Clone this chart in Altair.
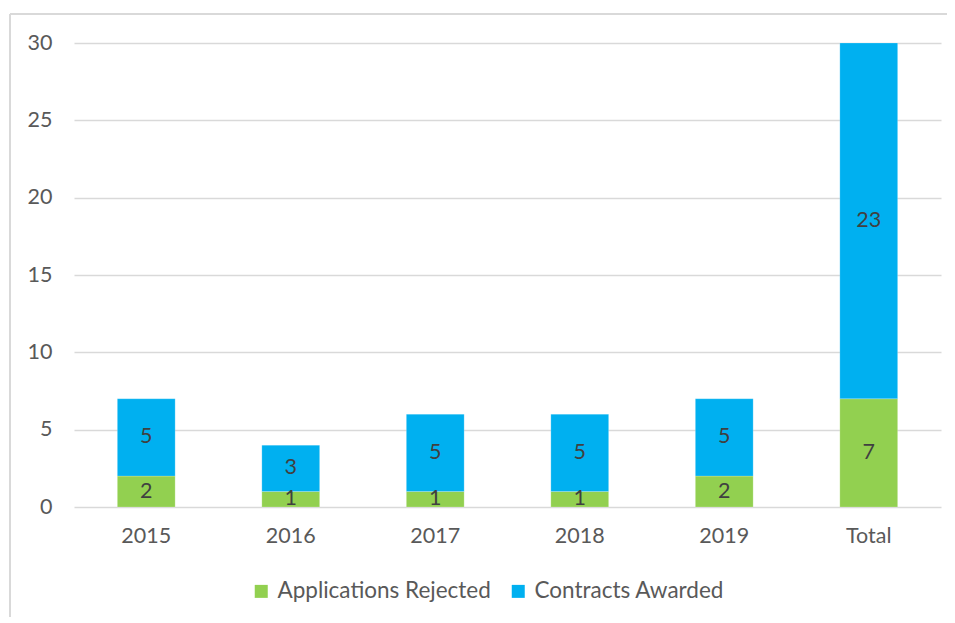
import altair as alt
import pandas as pd

years = ["2015", "2016", "2017", "2018", "2019", "Total"]
rejected = [2, 1, 1, 1, 2, 7]
awarded = [5, 3, 5, 5, 5, 23]
series = ["Applications Rejected", "Contracts Awarded"]
colors = ["#92D050", "#00B0F0"]

rows = []
for y, r, a in zip(years, rejected, awarded):
    rows.append({"year": y, "series": series[0], "value": r, "ord": 0})
    rows.append({"year": y, "series": series[1], "value": a, "ord": 1})
df = pd.DataFrame(rows)

FONT = "Lato"
TXT = "#595959"

x_enc = alt.X("year:N", sort=years, title=None,
              scale=alt.Scale(paddingInner=0.6, paddingOuter=0.3),
              axis=alt.Axis(labelAngle=0, domain=False, ticks=False, labelPadding=18,
                            labelFontSize=21.5, labelColor=TXT, labelFont=FONT, grid=False))

base = alt.Chart(df)

bars = base.mark_bar(stroke="white", strokeWidth=0.5, strokeOpacity=0.4).encode(
    x=x_enc,
    y=alt.Y("value:Q", stack="zero", title=None,
            scale=alt.Scale(domain=[0, 30], nice=False),
            axis=alt.Axis(values=[0, 5, 10, 15, 20, 25, 30], domain=False, ticks=False,
                          labelPadding=22, labelFontSize=21.5, labelColor=TXT, labelFont=FONT,
                          gridColor="#d9d9d9", gridWidth=1.5)),
    color=alt.Color("series:N", scale=alt.Scale(domain=series, range=colors),
                    legend=alt.Legend(title=None, orient="none", legendX=176, legendY=537,
                                      direction="horizontal", symbolType="square",
                                      symbolSize=169, symbolStrokeWidth=0,
                                      labelFontSize=22.5, labelColor=TXT, labelFont=FONT,
                                      labelLimit=0, columnPadding=16, labelOffset=5)),
    order=alt.Order("ord:Q"),
)

labels = base.transform_stack(
    stack="value", groupby=["year"], as_=["v0", "v1"], sort=[alt.SortField("ord")]
).transform_calculate(mid="(datum.v0 + datum.v1) / 2").mark_text(
    fontSize=21.5, color="#404040", font=FONT, baseline="middle"
).encode(
    x=alt.X("year:N", sort=years),
    y=alt.Y("mid:Q"),
    text="value:Q",
)

frame_left = base.mark_rule(color="#d9d9d9", strokeWidth=1.5).encode(
    x=alt.value(-64), y=alt.value(-29), y2=alt.value(620))
frame_top = base.mark_rule(color="#d9d9d9", strokeWidth=1.5).encode(
    x=alt.value(-64), x2=alt.value(881), y=alt.value(-29))

chart = alt.layer(frame_left, frame_top, bars, labels).properties(
    width=867, height=464,
    autosize=alt.AutoSizeParams(type="none"),
    padding={"left": 66, "top": 35, "right": 6, "bottom": 110},
).configure_view(stroke=None)

chart.save("out.html", embed_options={"renderer": "svg", "actions": False})
